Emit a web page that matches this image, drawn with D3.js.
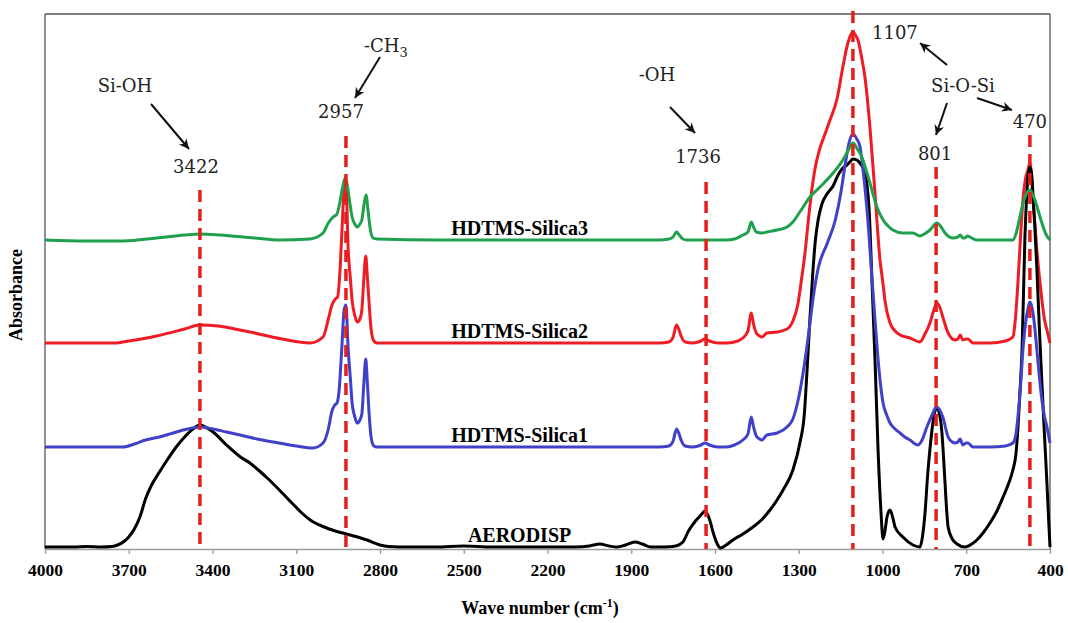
<!DOCTYPE html>
<html>
<head>
<meta charset="utf-8">
<script src="https://cdn.jsdelivr.net/npm/d3@7"></script>
<style>
  body { margin: 0; background: #fff; }
  svg { display: block; }
</style>
</head>
<body>
<svg id="chart" width="1068" height="623"></svg>
<script>
// FTIR spectra, [wavenumber cm-1, absorbance (a.u., stacked)]
var aerodisp = [
  [4000,0.02],[3900,0.02],[3850,0.025],[3800,0.02],[3760,0.025],[3740,0.04],[3715,0.08],[3700,0.12],
  [3680,0.2],[3660,0.32],[3640,0.5],[3620,0.63],[3590,0.77],[3560,0.9],[3530,1.02],[3500,1.12],
  [3470,1.2],[3445,1.24],[3420,1.21],[3398,1.17],[3350,1.04],[3300,0.92],[3266,0.86],[3240,0.8],
  [3200,0.7],[3150,0.56],[3112,0.45],[3080,0.36],[3050,0.29],[3000,0.22],[2960,0.18],[2920,0.15],
  [2880,0.12],[2847,0.09],[2800,0.04],[2770,0.025],[2700,0.02],[2600,0.02],[2500,0.03],[2400,0.02],
  [2300,0.02],[2200,0.02],[2100,0.02],[2050,0.03],[2012,0.05],[1980,0.03],[1950,0.02],[1920,0.04],
  [1887,0.07],[1860,0.05],[1830,0.02],[1780,0.02],[1740,0.03],[1715,0.07],[1695,0.18],[1670,0.28],
  [1650,0.34],[1636,0.38],[1620,0.3],[1605,0.15],[1590,0.04],[1580,0.01],[1560,0.04],[1536,0.09],
  [1500,0.15],[1464,0.22],[1430,0.3],[1403,0.39],[1380,0.48],[1356,0.59],[1321,0.79],[1296,1.06],
  [1280,1.35],[1271,1.75],[1260,2.3],[1250,2.75],[1240,3.1],[1230,3.3],[1217,3.45],[1199,3.55],
  [1177,3.63],[1159,3.74],[1145,3.8],[1127,3.84],[1117,3.87],[1106,3.9],[1092,3.89],[1081,3.86],
  [1063,3.76],[1056,3.65],[1048,3.4],[1038,2.7],[1027,1.9],[1016,1.0],[1006,0.4],[998,0.1],
  [990,0.2],[984,0.32],[973,0.39],[962,0.3],[955,0.22],[927,0.12],[891,0.04],[866,0.02],
  [857,0.12],[848,0.35],[838,0.75],[830,1.0],[820,1.25],[812,1.38],[805,1.41],[796,1.35],
  [787,1.16],[780,0.85],[776,0.66],[770,0.38],[765,0.22],[750,0.1],[733,0.05],[705,0.02],
  [680,0.05],[662,0.09],[640,0.16],[615,0.26],[590,0.38],[568,0.52],[545,0.68],[533,0.79],
  [522,0.95],[515,1.2],[508,1.55],[500,2.0],[490,3.1],[483,3.55],[476,3.78],[472,3.82],
  [466,3.75],[461,3.55],[454,3.2],[447,2.8],[438,2.2],[429,1.66],[420,1.15],[411,0.66],
  [405,0.3],[400,0.02]
];

var silica1 = [
  [4000,1.02],[3800,1.02],[3720,1.02],[3680,1.05],[3640,1.09],[3590,1.12],[3541,1.16],[3490,1.2],
  [3445,1.22],[3398,1.2],[3350,1.17],[3301,1.14],[3240,1.1],[3183,1.07],[3100,1.03],[3040,1.01],
  [3004,1.06],[2985,1.2],[2972,1.38],[2962,1.44],[2954,1.46],[2946,1.6],[2938,1.95],[2928,2.4],
  [2922,2.44],[2914,2.0],[2906,1.7],[2900,1.46],[2890,1.32],[2882,1.26],[2872,1.29],[2865,1.35],
  [2858,1.65],[2851,1.9],[2846,1.7],[2840,1.4],[2832,1.12],[2822,1.03],[2811,1.02],[2600,1.02],
  [2400,1.02],[2200,1.02],[2000,1.02],[1800,1.02],[1765,1.03],[1750,1.08],[1738,1.2],[1730,1.16],
  [1720,1.08],[1707,1.03],[1680,1.02],[1650,1.04],[1636,1.06],[1620,1.04],[1590,1.02],[1560,1.02],
  [1530,1.04],[1500,1.09],[1482,1.15],[1470,1.32],[1462,1.22],[1452,1.13],[1440,1.1],[1432,1.09],
  [1414,1.14],[1378,1.16],[1342,1.22],[1321,1.3],[1303,1.48],[1285,1.75],[1267,2.1],[1249,2.5],
  [1231,2.8],[1199,3.05],[1170,3.28],[1150,3.55],[1135,3.82],[1120,4.06],[1106,4.15],[1092,4.1],
  [1081,4.03],[1070,3.8],[1063,3.62],[1050,3.2],[1038,2.72],[1027,2.3],[1016,1.9],[1006,1.62],
  [998,1.46],[985,1.34],[973,1.26],[955,1.2],[937,1.16],[920,1.12],[902,1.09],[873,1.04],
  [860,1.08],[841,1.22],[819,1.36],[808,1.42],[800,1.41],[784,1.32],[765,1.12],[750,1.07],
  [740,1.06],[730,1.07],[722,1.1],[712,1.04],[700,1.06],[694,1.06],[676,1.02],[615,1.02],
  [560,1.03],[533,1.06],[522,1.15],[515,1.32],[505,1.65],[497,1.99],[488,2.25],[479,2.4],
  [472,2.47],[465,2.42],[461,2.36],[454,2.2],[447,1.99],[438,1.72],[429,1.49],[420,1.33],
  [411,1.22],[400,1.06]
];

var silica2 = [
  [4000,2.06],[3850,2.06],[3750,2.06],[3700,2.08],[3600,2.13],[3500,2.2],[3445,2.24],[3380,2.23],
  [3320,2.2],[3266,2.17],[3150,2.1],[3051,2.06],[3004,2.12],[2985,2.3],[2972,2.44],[2960,2.5],
  [2952,2.52],[2944,2.75],[2936,3.2],[2928,3.62],[2922,3.65],[2914,3.0],[2906,2.7],[2900,2.49],
  [2890,2.33],[2882,2.27],[2872,2.3],[2865,2.39],[2858,2.7],[2851,2.93],[2846,2.75],[2840,2.5],
  [2832,2.2],[2822,2.08],[2811,2.06],[2600,2.06],[2400,2.06],[2200,2.06],[2000,2.06],[1800,2.06],
  [1765,2.07],[1750,2.12],[1738,2.24],[1730,2.2],[1720,2.12],[1707,2.07],[1680,2.06],[1650,2.08],
  [1636,2.1],[1620,2.08],[1590,2.06],[1560,2.06],[1530,2.07],[1500,2.11],[1482,2.18],[1470,2.36],
  [1462,2.25],[1452,2.16],[1440,2.13],[1432,2.12],[1414,2.16],[1378,2.17],[1342,2.2],[1321,2.28],
  [1303,2.45],[1290,2.7],[1278,2.95],[1267,3.25],[1255,3.55],[1242,3.8],[1225,4.0],[1210,4.12],
  [1188,4.29],[1163,4.5],[1142,4.82],[1125,5.05],[1117,5.12],[1106,5.17],[1095,5.13],[1088,5.09],
  [1075,4.92],[1063,4.72],[1045,4.22],[1027,3.56],[1009,2.89],[998,2.65],[991,2.48],[973,2.26],
  [955,2.18],[937,2.14],[902,2.11],[866,2.07],[848,2.15],[830,2.26],[815,2.4],[805,2.46],
  [795,2.42],[784,2.32],[765,2.16],[740,2.09],[730,2.1],[722,2.14],[712,2.09],[700,2.1],
  [694,2.1],[676,2.06],[615,2.06],[560,2.08],[533,2.12],[524,2.3],[515,2.66],[506,3.1],
  [497,3.49],[488,3.7],[479,3.79],[472,3.86],[466,3.72],[461,3.49],[454,3.25],[447,2.99],
  [438,2.72],[429,2.49],[420,2.3],[411,2.19],[400,2.06]
];

var silica3 = [
  [4000,3.09],[3850,3.08],[3720,3.08],[3600,3.11],[3500,3.14],[3445,3.15],[3373,3.14],[3250,3.11],
  [3158,3.09],[3051,3.1],[3004,3.16],[2985,3.26],[2968,3.32],[2954,3.35],[2945,3.45],[2935,3.6],
  [2925,3.71],[2918,3.65],[2910,3.5],[2900,3.32],[2890,3.25],[2882,3.22],[2872,3.25],[2865,3.29],
  [2857,3.45],[2850,3.54],[2843,3.39],[2835,3.2],[2825,3.11],[2811,3.1],[2600,3.09],[2400,3.09],
  [2200,3.09],[2000,3.09],[1800,3.09],[1765,3.1],[1750,3.12],[1738,3.17],[1728,3.14],[1715,3.1],
  [1700,3.09],[1600,3.09],[1560,3.09],[1530,3.1],[1500,3.14],[1482,3.17],[1470,3.27],[1462,3.22],
  [1452,3.17],[1432,3.16],[1414,3.17],[1378,3.19],[1342,3.22],[1321,3.27],[1296,3.37],[1260,3.52],
  [1224,3.62],[1177,3.76],[1142,3.89],[1120,4.0],[1106,4.06],[1090,4.0],[1074,3.92],[1060,3.8],
  [1045,3.66],[1020,3.42],[998,3.29],[980,3.23],[963,3.19],[927,3.16],[891,3.16],[866,3.13],
  [850,3.15],[830,3.19],[805,3.26],[790,3.22],[776,3.16],[760,3.12],[748,3.11],[730,3.12],
  [722,3.14],[712,3.11],[705,3.11],[695,3.13],[687,3.12],[662,3.09],[600,3.09],[533,3.09],
  [520,3.17],[508,3.32],[495,3.47],[483,3.56],[472,3.59],[463,3.55],[454,3.49],[442,3.38],
  [429,3.26],[415,3.15],[400,3.09]
];

var seriesNames = ['HDTMS-Silica2', 'AERODISP', 'HDTMS-Silica1', 'HDTMS-Silica3'];
var seriesData = [silica2, aerodisp, silica1, silica3];
var seriesBase = [2.06, 0.02, 1.02, 3.09];
var seriesColors = ['#ee1c24', '#000000', '#4040c8', '#1fa04c'];

var xTicks = [4000, 3700, 3400, 3100, 2800, 2500, 2200, 1900, 1600, 1300, 1000, 700, 400];

// marked bands: where the dashed line sits, its printed label, how high it goes
var bandPos = [3445, 2922, 1632, 1106, 808, 472];
var bandLabels = ['3422', '2957', '1736', '1107', '801', '470'];
var bandTop = [3.59, 4.13, 3.67, 5.38, 3.82, 4.14];

var svg = d3.select('#chart');
var plotLeft = 45, plotRight = 1050, plotTop = 14, plotBottom = 549;

var x = d3.scaleLinear().domain([4000, 400]).range([plotLeft, plotRight]);
var y = d3.scaleLinear().domain([0, 5.35]).range([plotBottom, plotTop]);

// frame
var frame = svg.append('g');
frame.append('line').attr('x1', plotLeft).attr('x2', plotRight).attr('y1', plotTop).attr('y2', plotTop);
frame.append('line').attr('x1', plotLeft).attr('x2', plotLeft).attr('y1', plotTop).attr('y2', plotBottom);
frame.append('line').attr('x1', plotRight).attr('x2', plotRight).attr('y1', plotTop).attr('y2', plotBottom);
frame.selectAll('line').attr('stroke', '#555').attr('stroke-width', 1.3);

// x axis
var xAxis = svg.append('g')
    .attr('transform', 'translate(0,' + plotBottom + ')')
    .call(d3.axisBottom(x).tickValues(xTicks).tickFormat(d3.format('d'))
          .tickSize(5).tickPadding(10).tickSizeOuter(0));
xAxis.select('.domain').attr('stroke', '#9a9a9a').attr('stroke-width', 1.5);
xAxis.selectAll('.tick line').attr('stroke', '#9a9a9a').attr('stroke-width', 1.3);
xAxis.selectAll('.tick text')
    .attr('fill', '#000')
    .style('font-family', '"Liberation Serif", "Times New Roman", serif')
    .style('font-weight', 'bold')
    .style('font-size', '17.5px');

// spectra
var line = d3.line()
    .x(function (d) { return x(d[0]); })
    .y(function (d) { return y(d[1]); })
    .curve(d3.curveMonotoneX);

svg.append('g').selectAll('path')
    .data(seriesData)
    .enter()
    .append('path')
    .attr('d', line)
    .attr('fill', 'none')
    .attr('stroke', function (d, i) { return seriesColors[i]; })
    .attr('stroke-width', 3)
    .attr('stroke-linejoin', 'round');

// series labels
svg.append('g').selectAll('text')
    .data(seriesNames)
    .enter()
    .append('text')
    .attr('x', x(2300))
    .attr('y', function (d, i) { return y(seriesBase[i]) - 5; })
    .attr('text-anchor', 'middle')
    .style('font-family', '"Liberation Serif", "Times New Roman", serif')
    .style('font-weight', 'bold')
    .style('font-size', '20px')
    .text(function (d) { return d; });

// dashed band lines
svg.append('g').selectAll('line')
    .data(bandPos)
    .enter()
    .append('line')
    .attr('x1', function (d) { return x(d); })
    .attr('x2', function (d) { return x(d); })
    .attr('y1', function (d, i) { return y(bandTop[i]); })
    .attr('y2', plotBottom)
    .attr('stroke', '#e3201c')
    .attr('stroke-width', 3.5)
    .attr('stroke-dasharray', '12,7');

// band numbers and group labels
var annFont = '"DejaVu Serif", Cambria, serif';
var numOffsets = [[-4, 173], [-5, 118], [-8, 163], [42, 39], [-1, 160], [0, 128]];
svg.append('g').selectAll('text')
    .data(bandLabels)
    .enter()
    .append('text')
    .attr('x', function (d, i) { return x(bandPos[i]) + numOffsets[i][0]; })
    .attr('y', function (d, i) { return numOffsets[i][1]; })
    .attr('text-anchor', 'middle')
    .style('font-family', annFont)
    .style('font-size', '18px')
    .attr('fill', '#222')
    .text(function (d) { return d; });

var notes = svg.append('g')
    .style('font-family', annFont)
    .style('font-size', '18px')
    .attr('fill', '#222');
notes.append('text').attr('x', 125).attr('y', 92).attr('text-anchor', 'middle').text('Si-OH');
notes.append('text').attr('x', 657).attr('y', 81).attr('text-anchor', 'middle').text('-OH');
notes.append('text').attr('x', 963).attr('y', 92).attr('text-anchor', 'middle').text('Si-O-Si');
var ch3 = notes.append('text').attr('x', 364).attr('y', 52);
ch3.append('tspan').text('-CH');
ch3.append('tspan').attr('dy', 5).style('font-size', '13px').text('3');

// arrows
svg.append('defs').append('marker')
    .attr('id', 'arrowhead')
    .attr('markerUnits', 'userSpaceOnUse')
    .attr('markerWidth', 12)
    .attr('markerHeight', 12)
    .attr('refX', 10)
    .attr('refY', 5)
    .attr('orient', 'auto')
    .append('path')
    .attr('d', 'M0,0 L10,5 L0,10 L3,5 Z')
    .attr('fill', '#111');

var arrows = [
  [151, 104, 189, 149],
  [380, 57, 355, 98],
  [670, 107, 695, 133],
  [947, 65, 920, 43],
  [947, 103, 936, 135],
  [977, 98, 1012, 110]
];
svg.append('g').selectAll('line')
    .data(arrows)
    .enter()
    .append('line')
    .attr('x1', function (d) { return d[0]; })
    .attr('y1', function (d) { return d[1]; })
    .attr('x2', function (d) { return d[2]; })
    .attr('y2', function (d) { return d[3]; })
    .attr('stroke', '#111')
    .attr('stroke-width', 2)
    .attr('marker-end', 'url(#arrowhead)');

// axis titles
var title = svg.append('text')
    .attr('x', 540)
    .attr('y', 614)
    .attr('text-anchor', 'middle')
    .style('font-family', '"Liberation Serif", "Times New Roman", serif')
    .style('font-weight', 'bold')
    .style('font-size', '18px');
title.append('tspan').text('Wave number (cm');
title.append('tspan').attr('dy', -7).style('font-size', '12px').text('-1');
title.append('tspan').attr('dy', 7).text(')');

svg.append('text')
    .attr('transform', 'translate(22,' + 295 + ') rotate(-90)')
    .attr('text-anchor', 'middle')
    .style('font-family', '"Liberation Serif", "Times New Roman", serif')
    .style('font-weight', 'bold')
    .style('font-size', '18px')
    .text('Absorbance');
</script>
</body>
</html>
